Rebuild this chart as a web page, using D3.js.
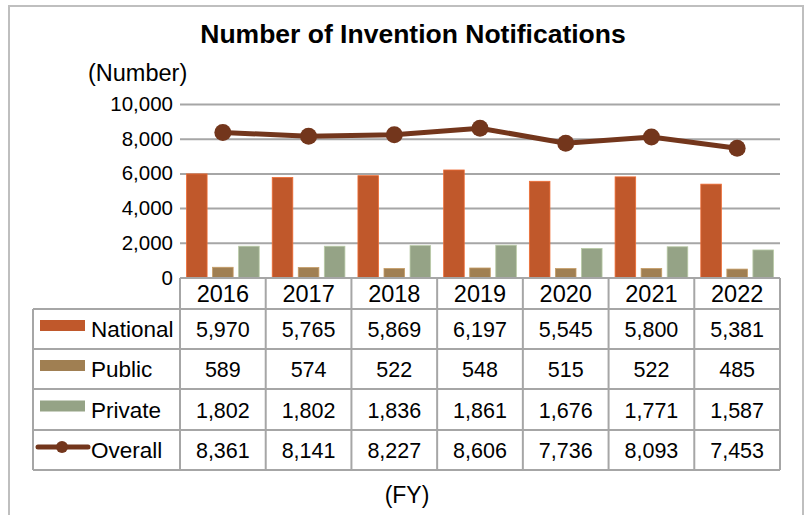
<!DOCTYPE html>
<html>
<head>
<meta charset="utf-8">
<script src="https://cdn.jsdelivr.net/npm/d3@7"></script>
<style>
  html, body { margin: 0; padding: 0; background: #fff; }
  svg { display: block; font-family: "Liberation Sans", Arial, sans-serif; }
</style>
</head>
<body>
<svg id="chart" width="806" height="515"></svg>
<script>
// data
const years = ['2016', '2017', '2018', '2019', '2020', '2021', '2022'];
const national = [5970, 5765, 5869, 6197, 5545, 5800, 5381];
const publicInst = [589, 574, 522, 548, 515, 522, 485];
const privateInst = [1802, 1802, 1836, 1861, 1676, 1771, 1587];
const overall = [8361, 8141, 8227, 8606, 7736, 8093, 7453];
const yTicks = [0, 2000, 4000, 6000, 8000, 10000];

const barSeries = [
  { name: 'National', values: national, color: '#C0582B' },
  { name: 'Public', values: publicInst, color: '#A07F52' },
  { name: 'Private', values: privateInst, color: '#95A386' }
];
const lineColor = '#73361C';
const gridColor = '#A6A6A6';

const svg = d3.select('#chart');
const fmt = d3.format(',');

// outer frame
svg.append('rect').attr('x', 9).attr('y', 6).attr('width', 794).attr('height', 520)
  .attr('fill', 'none').attr('stroke', '#BFBFBF').attr('stroke-width', 2);

svg.append('text').attr('x', 413).attr('y', 43).attr('text-anchor', 'middle')
  .attr('font-size', 26.5).attr('font-weight', 'bold').text('Number of Invention Notifications');

svg.append('text').attr('x', 88).attr('y', 81)
  .attr('font-size', 23.5).text('(Number)');

const x = d3.scaleBand().domain(years).range([180, 780]);
const y = d3.scaleLinear().domain([0, 10000]).range([277.5, 104]);
const xi = d3.scaleBand().domain(barSeries.map(s => s.name))
  .range([0, x.bandwidth()]).paddingInner(0.21).paddingOuter(0.25);

// gridlines + y labels
const yAxis = svg.append('g').attr('transform', 'translate(180,0)')
  .call(d3.axisLeft(y).tickValues(yTicks).tickFormat(fmt).tickSize(-600).tickPadding(7));
yAxis.select('.domain').remove();
yAxis.selectAll('.tick line').attr('stroke', gridColor).attr('stroke-width', 2);
yAxis.selectAll('.tick text').attr('font-size', 20.5).attr('fill', '#000')
  .attr('font-family', '"Liberation Sans", Arial, sans-serif');

// bars
barSeries.forEach(s => {
  svg.append('g').selectAll('rect').data(s.values).join('rect')
    .attr('x', (d, i) => x(years[i]) + xi(s.name))
    .attr('y', d => y(d))
    .attr('width', xi.bandwidth())
    .attr('height', d => y(0) - y(d))
    .attr('fill', s.color)
    .attr('stroke', d3.color(s.color).brighter(0.6)).attr('stroke-width', 0.8);
});

// overall line
const cx = (d, i) => x(years[i]) + x.bandwidth() / 2;
svg.append('path').datum(overall)
  .attr('d', d3.line().x(cx).y(d => y(d)))
  .attr('fill', 'none').attr('stroke', lineColor).attr('stroke-width', 5);
svg.append('g').selectAll('circle').data(overall).join('circle')
  .attr('cx', cx).attr('cy', d => y(d)).attr('r', 8.5).attr('fill', lineColor);

// data table
const headerTop = 278, headerBot = 309;
const rowBounds = [309, 349, 389, 430, 470];
const legendLeft = 33;
const grid = svg.append('g').attr('stroke', gridColor).attr('stroke-width', 2).attr('fill', 'none');

// header row
grid.append('line').attr('x1', 180).attr('x2', 780).attr('y1', headerTop).attr('y2', headerTop);
x.domain().forEach(yr => {
  svg.append('text').attr('x', x(yr) + x.bandwidth() / 2).attr('y', (headerTop + headerBot) / 2 + 8.5)
    .attr('text-anchor', 'middle').attr('font-size', 23.5).text(yr);
});
// horizontal lines of body
rowBounds.forEach(yy => {
  grid.append('line').attr('x1', legendLeft).attr('x2', 780).attr('y1', yy).attr('y2', yy);
});
// vertical lines
grid.append('line').attr('x1', legendLeft).attr('x2', legendLeft).attr('y1', headerBot).attr('y2', 470);
x.domain().concat(['end']).forEach(yr => {
  const xx = yr === 'end' ? 780 : x(yr);
  grid.append('line').attr('x1', xx).attr('x2', xx).attr('y1', headerTop).attr('y2', 470);
});

const rows = barSeries.map(s => ({ name: s.name, values: s.values, color: s.color, kind: 'bar' }))
  .concat([{ name: 'Overall', values: overall, color: lineColor, kind: 'line' }]);

rows.forEach((r, ri) => {
  const mid = (rowBounds[ri] + rowBounds[ri + 1]) / 2;
  if (r.kind === 'bar') {
    svg.append('rect').attr('x', 40).attr('y', mid - 9).attr('width', 45).attr('height', 11).attr('fill', r.color);
  } else {
    svg.append('line').attr('x1', 38).attr('x2', 88).attr('y1', mid - 3).attr('y2', mid - 3)
      .attr('stroke', r.color).attr('stroke-width', 5).attr('stroke-linecap', 'round');
    svg.append('circle').attr('cx', 62).attr('cy', mid - 3).attr('r', 6).attr('fill', r.color);
  }
  svg.append('text').attr('x', 91).attr('y', mid + 8).attr('font-size', 22.5).text(r.name);
  r.values.forEach((v, i) => {
    svg.append('text').attr('x', x(years[i]) + x.bandwidth() / 2).attr('y', mid + 8)
      .attr('text-anchor', 'middle').attr('font-size', 21.5).text(fmt(v));
  });
});

svg.append('text').attr('x', 407).attr('y', 503).attr('text-anchor', 'middle')
  .attr('font-size', 23).text('(FY)');
</script>
</body>
</html>
